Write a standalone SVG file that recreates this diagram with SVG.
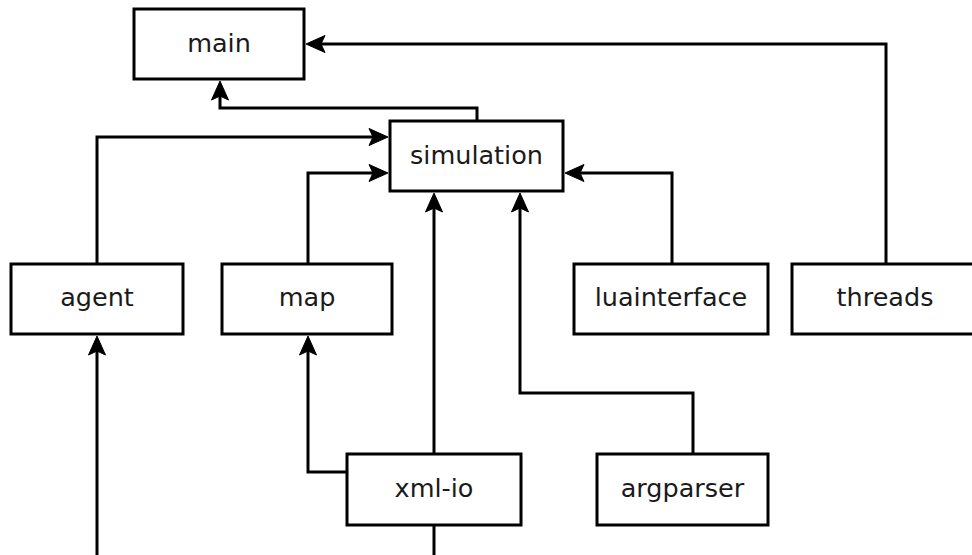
<svg xmlns="http://www.w3.org/2000/svg" width="972" height="555" viewBox="0 0 972 555">
<style>
.box{fill:#fff;stroke:#000;stroke-width:3}
.lbl{font-family:"DejaVu Sans",sans-serif;font-size:25.5px;fill:#1a1a1a;text-anchor:middle}
.edge{fill:none;stroke:#000;stroke-width:3}
.head{fill:#000;stroke:#000;stroke-width:1;stroke-linejoin:miter}
</style>
<rect width="972" height="555" fill="#fff"/>
<g id="connectors">
<path class="edge" d="M477,121 V108 H220 V93"/>
<path class="edge" d="M886,264 V44 H318"/>
<path class="edge" d="M97,264 V137 H376"/>
<path class="edge" d="M308,264 V173 H376"/>
<path class="edge" d="M672,264 V173 H577"/>
<path class="edge" d="M434,454 V205"/>
<path class="edge" d="M693,454 V393 H520 V205"/>
<path class="edge" d="M347,472 H308 V348"/>
<path class="edge" d="M97,556 V348"/>
<path class="edge" d="M434,525 V556"/>
<polygon class="head" points="220,81 211.5,100 220,96 228.5,100"/>
<polygon class="head" points="306,44 325,35.5 321,44 325,52.5"/>
<polygon class="head" points="388,137 369,128.5 373,137 369,145.5"/>
<polygon class="head" points="388,173 369,164.5 373,173 369,181.5"/>
<polygon class="head" points="565,173 584,164.5 580,173 584,181.5"/>
<polygon class="head" points="434,193 425.5,212 434,208 442.5,212"/>
<polygon class="head" points="520,193 511.5,212 520,208 528.5,212"/>
<polygon class="head" points="308,336 299.5,355 308,351 316.5,355"/>
<polygon class="head" points="97,336 88.5,355 97,351 105.5,355"/>
</g>
<g id="main"><rect class="box" x="134" y="9" width="170" height="70"/><text class="lbl" x="219" y="52">main</text></g>
<g id="simulation"><rect class="box" x="390" y="121" width="173" height="70"/><text class="lbl" x="476.5" y="164">simulation</text></g>
<g id="agent"><rect class="box" x="11" y="264" width="172" height="70"/><text class="lbl" x="97" y="306">agent</text></g>
<g id="map"><rect class="box" x="222" y="264" width="170" height="70"/><text class="lbl" x="307" y="306">map</text></g>
<g id="luainterface"><rect class="box" x="574" y="264" width="194" height="70"/><text class="lbl" x="671" y="306">luainterface</text></g>
<g id="threads"><rect class="box" x="792" y="264" width="190" height="70"/><text class="lbl" x="885" y="306">threads</text></g>
<g id="xml-io"><rect class="box" x="347" y="454" width="174" height="71"/><text class="lbl" x="434" y="497">xml-io</text></g>
<g id="argparser"><rect class="box" x="597" y="454" width="171" height="71"/><text class="lbl" x="682.5" y="497">argparser</text></g>
</svg>
